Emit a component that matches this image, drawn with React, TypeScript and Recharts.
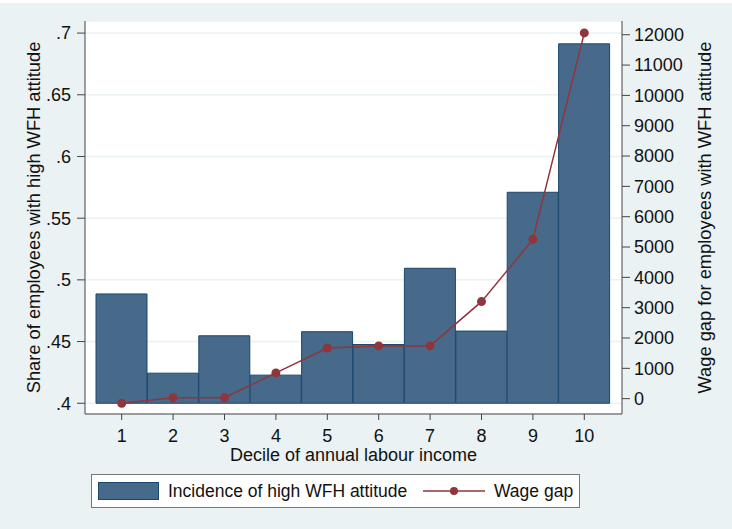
import React from "react";
import {
  Bar,
  CartesianGrid,
  ComposedChart,
  Legend,
  Line,
  XAxis,
  YAxis,
} from "recharts";

const deciles = ["1", "2", "3", "4", "5", "6", "7", "8", "9", "10"];
const shareHighWfh = [0.4886, 0.4244, 0.4547, 0.4228, 0.458, 0.4476, 0.5094, 0.4585, 0.571, 0.6913];
const wageGap = [-150, 30, 30, 850, 1670, 1740, 1740, 3200, 5250, 12060];
const leftTicks = [0.4, 0.45, 0.5, 0.55, 0.6, 0.65, 0.7];
const rightTicks = [0, 1000, 2000, 3000, 4000, 5000, 6000, 7000, 8000, 9000, 10000, 11000, 12000];

const FONT = '"Liberation Sans", Arial, sans-serif';
const BG = "#eaf2f3";
const BAR_FILL = "#476a8a";
const BAR_EDGE = "#1a476f";
const LINE = "#90353b";
const AXIS = "#444";

const data = deciles.map((d, i) => ({
  decile: d,
  share: shareHighWfh[i],
  gap: wageGap[i],
}));

const dropZero = (v: number) => String(v).replace(/^0/, "");

function LegendBox() {
  return (
    <div
      style={{
        position: "relative",
        boxSizing: "border-box",
        width: 489,
        height: 34,
        background: "#fff",
        border: "1px solid #777",
        fontFamily: FONT,
        fontSize: 17.5,
        color: "#111",
      }}
    >
      <div
        style={{
          position: "absolute",
          left: 6,
          top: 7,
          width: 61,
          height: 18,
          boxSizing: "border-box",
          background: BAR_FILL,
          border: `1px solid ${BAR_EDGE}`,
        }}
      />
      <span style={{ position: "absolute", left: 76, top: 6, whiteSpace: "nowrap" }}>
        Incidence of high WFH attitude
      </span>
      <svg style={{ position: "absolute", left: 331, top: 9 }} width={62} height={14}>
        <line x1={0} y1={7} x2={62} y2={7} stroke={LINE} strokeWidth={1.5} />
        <circle cx={31} cy={7} r={4} fill={LINE} />
      </svg>
      <span style={{ position: "absolute", left: 402, top: 6, whiteSpace: "nowrap" }}>
        Wage gap
      </span>
    </div>
  );
}

export default function App() {
  return (
    <div style={{ position: "relative", width: 732, height: 529, background: BG, overflow: "hidden" }}>
      <style>{"body{margin:0}"}</style>
      <div style={{ position: "absolute", left: 0, top: 0, width: 732, height: 3, background: "#fff" }} />
      <ComposedChart
        width={732}
        height={529}
        data={data}
        margin={{ top: 21, right: 0, bottom: 31, left: 0 }}
        barCategoryGap={0}
        style={{ fontFamily: FONT }}
      >
        <CartesianGrid
          yAxisId="left"
          vertical={false}
          stroke={BG}
          strokeWidth={1.5}
          fill="#fff"
        />
        <XAxis
          dataKey="decile"
          height={50}
          padding={{ left: 11, right: 12 }}
          tickSize={6}
          tickMargin={9}
          stroke={AXIS}
          tick={{ fill: "#111", fontSize: 18 }}
          tickLine={{ stroke: AXIS }}
          label={({ viewBox }: any) => (
            <text
              x={viewBox.x + viewBox.width / 2}
              y={461}
              textAnchor="middle"
              fontSize={18}
              fill="#111"
              fontFamily={FONT}
            >
              Decile of annual labour income
            </text>
          )}
        />
        <YAxis
          yAxisId="left"
          width={85}
          domain={[0.3913, 0.7098]}
          ticks={leftTicks}
          allowDataOverflow
          tickFormatter={dropZero}
          tickSize={8}
          tickMargin={6}
          stroke={AXIS}
          tick={{ fill: "#111", fontSize: 18 }}
          label={({ viewBox }: any) => {
            const cy = viewBox.y + viewBox.height / 2;
            return (
              <text
                x={33}
                y={cy}
                transform={`rotate(-90, 33, ${cy})`}
                textAnchor="middle"
                dominantBaseline="central"
                fontSize={18.3}
                fill="#111"
                fontFamily={FONT}
              >
                Share of employees with high WFH attitude
              </text>
            );
          }}
        />
        <YAxis
          yAxisId="right"
          orientation="right"
          width={110}
          domain={[-506, 12453]}
          ticks={rightTicks}
          allowDataOverflow
          tickSize={8}
          tickMargin={4}
          stroke={AXIS}
          tick={{ fill: "#111", fontSize: 18 }}
          label={({ viewBox }: any) => {
            const cy = viewBox.y + viewBox.height / 2;
            return (
              <text
                x={704}
                y={cy}
                transform={`rotate(-90, 704, ${cy})`}
                textAnchor="middle"
                dominantBaseline="central"
                fontSize={18.3}
                fill="#111"
                fontFamily={FONT}
              >
                Wage gap for employees with WFH attitude
              </text>
            );
          }}
        />
        <Bar
          yAxisId="left"
          dataKey={(d: any) => [0.4, d.share]}
          name="Incidence of high WFH attitude"
          fill={BAR_FILL}
          stroke={BAR_EDGE}
          strokeWidth={1}
          isAnimationActive={false}
        />
        <Line
          yAxisId="right"
          dataKey="gap"
          name="Wage gap"
          type="linear"
          stroke={LINE}
          strokeWidth={1.5}
          dot={{ r: 4.5, fill: LINE, stroke: LINE, strokeWidth: 0 }}
          isAnimationActive={false}
        />
        <Legend
          content={() => <LegendBox />}
          wrapperStyle={{ position: "absolute", left: 91, top: 474, width: 489, bottom: "auto" }}
        />
      </ComposedChart>
    </div>
  );
}
